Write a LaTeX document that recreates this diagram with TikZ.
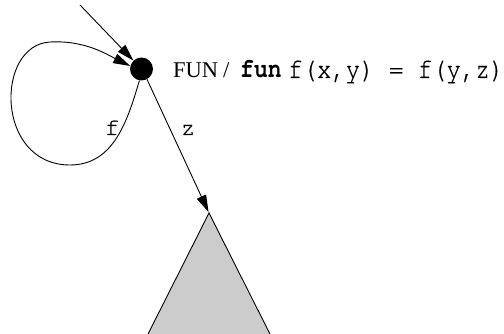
\documentclass[tikz,border=0pt]{standalone}
\usepackage{fontspec}
\setmainfont{Liberation Serif}
\setmonofont{texgyrecursor}[Extension=.otf,UprightFont=*-regular,BoldFont=*-bold,UprightFeatures={FakeBold=0.6}]
\usetikzlibrary{arrows.meta}
\begin{document}
\begin{tikzpicture}[x=1pt,y=-1pt,
  conn/.style={line width=0.9pt,-{Triangle[length=17pt,width=10pt]}},
  lbl/.style={inner sep=0pt,font=\fontsize{24}{28}\selectfont\ttfamily},
  txt/.style={inner sep=0pt,anchor=base west},
  state/.style={circle,fill=black,minimum size=23pt,inner sep=0pt}]
\useasboundingbox (0,0) rectangle (504,334);
\clip (0,0) rectangle (504,334);
% subtree triangle
\coordinate (apex) at (209,213);
\fill[gray!40] (apex) -- (143,344) -- (275,344) -- cycle;
\draw[line width=0.9pt] (143,344) -- (apex) -- (275,344);
% state
\node[state] (s) at (141.5,69) {};
\coordinate (start) at (80,5);
\draw[conn] (start) -- (s);
\draw[conn] (s.-100) .. controls (128,118) and (115,165) .. (70,165)
  .. controls (-5,165) and (-5,45) .. (50,42)
  .. controls (85,40) and (108,55) .. (s.165);
\draw[conn,shorten >=1pt] (s.-62) -- (apex);
% labels
\node[lbl,anchor=base] (lf) at (112,135) {f};
\node[lbl,anchor=base] (lz) at (188,135) {z};
\node[txt,font=\fontsize{22.5}{26}\selectfont] (t1) at (173,78) {FUN\hspace{5pt}/};
\node[txt,font=\fontsize{23}{26}\selectfont\ttfamily\bfseries] (t2) at (240,78) {\scalebox{1}[1.2]{fun}};
\node[txt,font=\fontsize{24}{28}\selectfont\ttfamily] (t3) at (288,78) {\scalebox{1}[1.2]{f(x,y) = f(y,z)}};
\end{tikzpicture}
\end{document}
